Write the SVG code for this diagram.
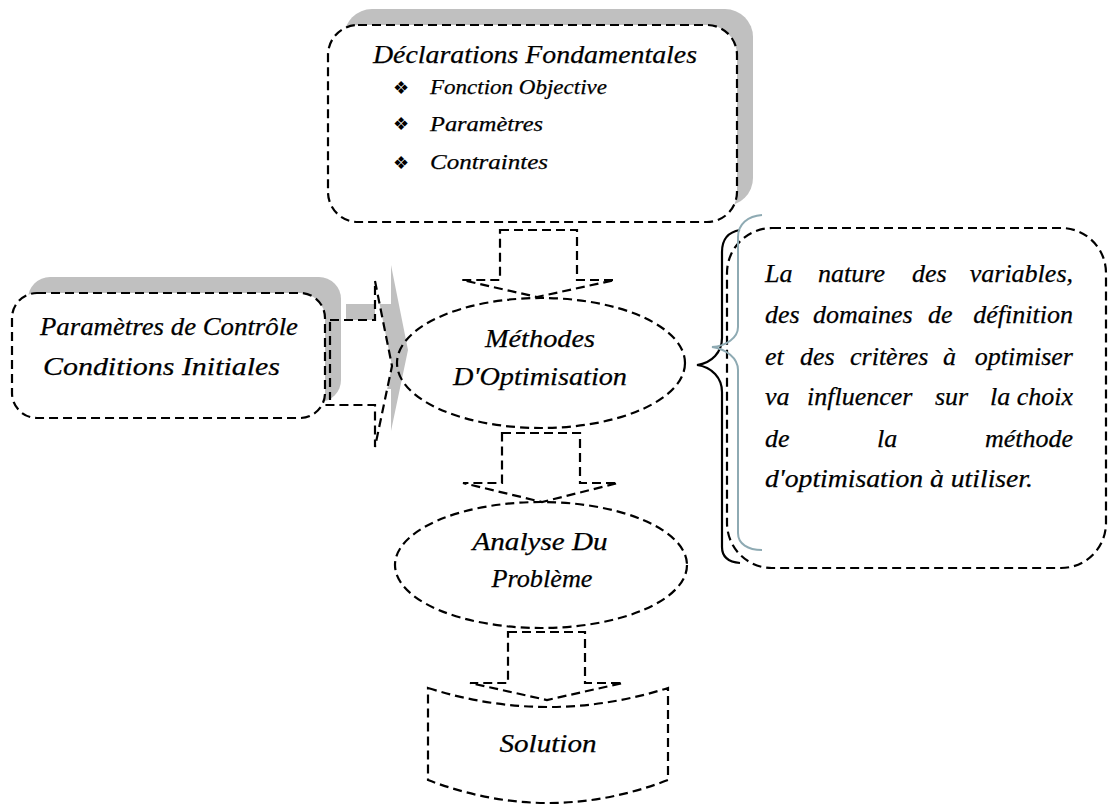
<svg xmlns="http://www.w3.org/2000/svg" width="1108" height="805" viewBox="0 0 1108 805">
  <style>
    .dash { fill: none; stroke: #000; stroke-width: 2.2; stroke-dasharray: 9 5; }
    .dashw { fill: #fff; stroke: #000; stroke-width: 2.2; stroke-dasharray: 9 5; }
    .shadow { fill: #c0c0c0; stroke: none; }
    .t { font-family: "Liberation Serif", serif; font-style: italic; fill: #000; stroke: #000; stroke-width: 0.25; }
    .t26 { font-size: 26px; }
    .t22 { font-size: 22px; }
    .bul { font-family: "DejaVu Sans", sans-serif; font-size: 18px; fill: #000; }
    .mid { text-anchor: middle; }
    .end { text-anchor: end; }
  </style>

  <rect width="1108" height="805" fill="#fff"/>

  <!-- Control parameters feeding the optimisation methods -->
  <g id="connectors">
    <g id="arrow-params">
      <path class="shadow" d="M346,304 H391 V265 L408,350 L391,431 V389 H346 Z"/>
      <path fill="#fff" d="M330,320 H375 V281 L392,366 L375,447 V405 H323 V320 Z"/>
    </g>
  </g>

  <!-- Control parameters / initial conditions -->
  <g id="node-params">
    <rect class="shadow" x="28" y="277" width="313" height="125" rx="22"/>
    <path class="dash" d="M330,320 H375 V281 L392,366 L375,447 V405 H323"/>
    <path class="dash" d="M330,322 V400"/>
    <rect class="dashw" x="12" y="293" width="313" height="125" rx="25"/>
    <text class="t t26" x="40" y="335" textLength="258" lengthAdjust="spacingAndGlyphs">Paramètres de Contrôle</text>
    <text class="t t26" x="43" y="375" textLength="237" lengthAdjust="spacingAndGlyphs">Conditions Initiales</text>
  </g>

  <!-- Fundamental declarations -->
  <g id="node-declarations">
    <rect class="shadow" x="344" y="9" width="409" height="197" rx="28"/>
    <rect class="dashw" x="328" y="25" width="409" height="197" rx="30"/>
    <text class="t t26" x="373" y="63" textLength="324" lengthAdjust="spacingAndGlyphs">Déclarations Fondamentales</text>
    <text class="bul mid" x="401" y="94">❖</text>
    <text class="t t22" x="430" y="94" textLength="177" lengthAdjust="spacingAndGlyphs">Fonction Objective</text>
    <text class="bul mid" x="401" y="130">❖</text>
    <text class="t t22" x="430" y="131" textLength="113" lengthAdjust="spacingAndGlyphs">Paramètres</text>
    <text class="bul mid" x="401" y="169">❖</text>
    <text class="t t22" x="430" y="169" textLength="118" lengthAdjust="spacingAndGlyphs">Contraintes</text>
  </g>

  <g id="connectors-down">
    <path class="dashw" d="M500,230 H577 V280 H615 L537,297 L462,280 H500 Z"/>
    <path class="dashw" d="M502,433 H580 V483 H618 L542,502 L463,483 H502 Z"/>
    <path class="dashw" d="M508,632 H585 V683 H623 L547,700 L470,683 H508 Z"/>
  </g>

  <!-- Optimisation methods -->
  <g id="node-methods">
    <ellipse class="dash" cx="541" cy="363" rx="144" ry="65"/>
    <text class="t t26 mid" x="540" y="347" textLength="110" lengthAdjust="spacingAndGlyphs">Méthodes</text>
    <text class="t t26 mid" x="540" y="385" textLength="174" lengthAdjust="spacingAndGlyphs">D'Optimisation</text>
  </g>

  <!-- Problem analysis -->
  <g id="node-analysis">
    <ellipse class="dash" cx="541" cy="565" rx="146" ry="63"/>
    <text class="t t26 mid" x="540" y="550" textLength="135" lengthAdjust="spacingAndGlyphs">Analyse Du</text>
    <text class="t t26 mid" x="542" y="587" textLength="101" lengthAdjust="spacingAndGlyphs">Problème</text>
  </g>

  <!-- Solution -->
  <g id="node-solution">
    <path class="dashw" d="M428,688 Q548,726 668,688 V780 Q548,826 428,780 Z"/>
    <text class="t t26 mid" x="548" y="752" textLength="97" lengthAdjust="spacingAndGlyphs">Solution</text>
  </g>

  <!-- Note about the choice of method -->
  <g id="node-note">
    <rect class="dash" x="727" y="228" width="379" height="340" rx="45"/>
    <path fill="none" stroke="#000" stroke-width="2.2" d="M740,230 C728,232 722,240 722,252 V338 C722,352 712,363 697,365 C712,367 722,378 722,392 V547 C722,557 728,562 740,563"/>
    <path fill="none" stroke="#8eaab3" stroke-width="2" d="M762,215 C748,216 738,224 738,237 V327 C738,338 726,346 712,347 C726,349 738,358 738,370 V533 C738,544 748,550 762,550"/>
    <g class="t t26">
      <text x="765" y="282">La</text>
      <text x="818" y="282">nature</text>
      <text x="912" y="282">des</text>
      <text class="end" x="1073" y="282">variables,</text>

      <text x="765" y="323">des</text>
      <text x="813" y="323">domaines</text>
      <text x="928" y="323">de</text>
      <text class="end" x="1073" y="323">définition</text>

      <text x="765" y="365">et</text>
      <text x="800" y="365">des</text>
      <text x="850" y="365">critères</text>
      <text x="943" y="365">à</text>
      <text class="end" x="1073" y="365">optimiser</text>

      <text x="765" y="405">va</text>
      <text x="807" y="405">influencer</text>
      <text x="935" y="405">sur</text>
      <text x="990" y="405">la</text>
      <text class="end" x="1073" y="405">choix</text>

      <text x="765" y="447">de</text>
      <text x="877" y="447">la</text>
      <text class="end" x="1073" y="447">méthode</text>

      <text x="765" y="487" textLength="268" lengthAdjust="spacingAndGlyphs">d'optimisation à utiliser.</text>
    </g>
  </g>
</svg>
